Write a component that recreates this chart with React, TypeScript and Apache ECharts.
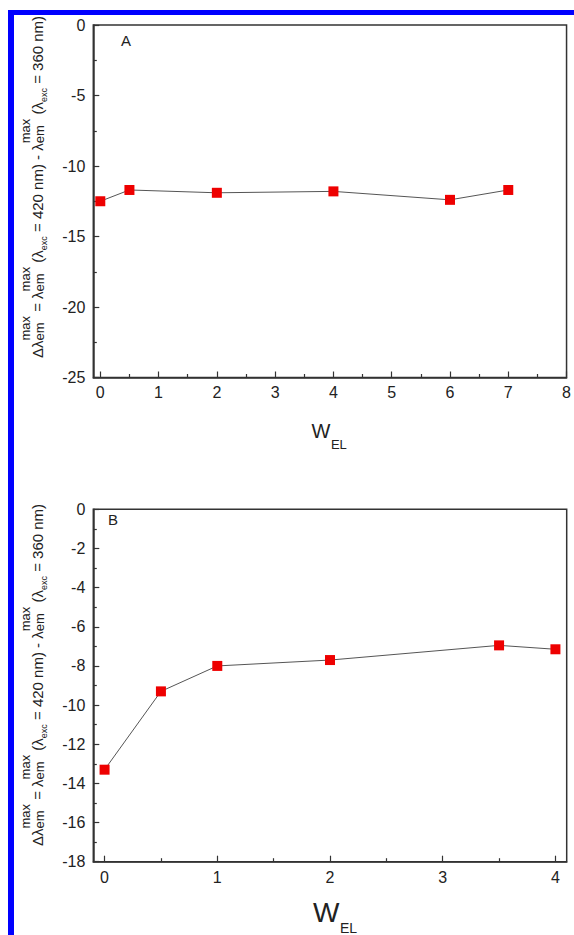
import React, { useEffect, useRef } from "react";
import * as echarts from "echarts";

// ---- data ----
const xA = [0, 0.5, 2, 4, 6, 7];
const yA = [-12.5, -11.7, -11.9, -11.8, -12.4, -11.7];
const xB = [0, 0.5, 1, 2, 3.5, 4];
const yB = [-13.3, -9.3, -8.0, -7.7, -6.95, -7.15];

const xTicksA = [0, 1, 2, 3, 4, 5, 6, 7, 8];
const xMinorA = [0.5, 1.5, 2.5, 3.5, 4.5, 5.5, 6.5, 7.5];
const xTicksB = [0, 1, 2, 3, 4];
const xMinorB = [0.5, 1.5, 2.5, 3.5];

const panelLabels = ["A", "B"];
const xTitleMain = "W";
const xTitleSub = "EL";

const FONT = "'Liberation Sans', Arial, Helvetica, sans-serif";
const AX = "#333";
const TXT = "#222";

function measure(text: string, size: number): number {
  const c = document.createElement("canvas");
  const ctx = c.getContext("2d")!;
  ctx.font = `${size}px 'Liberation Sans', Arial, sans-serif`;
  return ctx.measureText(text).width;
}

type Part = { k: "main" | "sub" | "stack"; t?: string };
const yTitleParts: Part[] = [
  { k: "main", t: "Δλ" },
  { k: "stack" },
  { k: "main", t: " = λ" },
  { k: "stack" },
  { k: "main", t: " (λ" },
  { k: "sub", t: "exc" },
  { k: "main", t: " = 420 nm) - λ" },
  { k: "stack" },
  { k: "main", t: " (λ" },
  { k: "sub", t: "exc" },
  { k: "main", t: " = 360 nm)" },
];

function yTitle(centerY: number) {
  const MAIN = 15, STK = 13, SUB = 9;
  const yMain = 37, yMax = 25.5, yEm = 39.5, yExc = 43.5;
  const widths = yTitleParts.map((p) =>
    p.k === "main" ? measure(p.t!, MAIN) : p.k === "sub" ? measure(p.t!, SUB) : Math.max(measure("max", STK), measure("em", STK))
  );
  const total = widths.reduce((a, b) => a + b, 0);
  let x = -total / 2;
  const children: any[] = [];
  const txt = (t: string, px: number, py: number, size: number) => ({
    type: "text",
    x: px,
    y: py,
    style: {
      text: t,
      font: `${size}px ${FONT}`,
      fill: TXT,
      align: "left",
      verticalAlign: "middle",
      textAlign: "left",
      textVerticalAlign: "middle",
    },
  });
  yTitleParts.forEach((p, i) => {
    if (p.k === "main") children.push(txt(p.t!, x, yMain, MAIN));
    else if (p.k === "sub") children.push(txt(p.t!, x, yExc, SUB));
    else {
      children.push(txt("max", x, yMax, STK));
      children.push(txt("em", x, yEm, STK));
    }
    x += widths[i];
  });
  return { type: "group", x: 0, y: centerY, rotation: Math.PI / 2, children };
}

function xTitle(left: number, cy: number, wSize: number, subCy: number, subSize: number) {
  const wW = measure(xTitleMain, wSize);
  return [
    {
      type: "text",
      x: left,
      y: cy,
      style: { text: xTitleMain, font: `${wSize}px ${FONT}`, fill: TXT, align: "left", verticalAlign: "middle", textAlign: "left", textVerticalAlign: "middle" },
    },
    {
      type: "text",
      x: left + wW + 0.5,
      y: subCy,
      style: { text: xTitleSub, font: `${subSize}px ${FONT}`, fill: TXT, align: "left", verticalAlign: "middle", textAlign: "left", textVerticalAlign: "middle" },
    },
  ];
}

function xMajor(grid: number, min: number, max: number, ticks: number[], margin: number) {
  return {
    type: "value",
    gridIndex: grid,
    position: "bottom",
    min,
    max,
    axisLine: { show: true, onZero: false, lineStyle: { color: AX, width: 1.5 } },
    axisTick: { show: true, inside: true, length: 6, customValues: ticks, lineStyle: { color: AX, width: 1.2 } },
    axisLabel: { show: true, customValues: ticks, fontSize: 16, color: TXT, margin, fontFamily: FONT },
    splitLine: { show: false },
  };
}
function xMinor(grid: number, min: number, max: number, ticks: number[]) {
  return {
    type: "value",
    gridIndex: grid,
    position: "bottom",
    min,
    max,
    axisLine: { show: false, onZero: false },
    axisTick: { show: true, inside: true, length: 3.5, customValues: ticks, lineStyle: { color: AX, width: 1.2 } },
    axisLabel: { show: false },
    splitLine: { show: false },
  };
}
function yAx(grid: number, min: number, max: number, interval: number) {
  return {
    type: "value",
    gridIndex: grid,
    min,
    max,
    interval,
    axisLine: { show: true, onZero: false, lineStyle: { color: AX, width: 1.5 } },
    axisTick: { show: true, inside: true, length: 6, lineStyle: { color: AX, width: 1.2 } },
    minorTick: { show: true, splitNumber: 2, length: 3.5, lineStyle: { color: AX, width: 1.2 } },
    axisLabel: { fontSize: 16, color: TXT, margin: 8, fontFamily: FONT },
    splitLine: { show: false },
    minorSplitLine: { show: false },
  };
}

export default function App() {
  const ref = useRef<HTMLDivElement>(null);
  useEffect(() => {
    const chart = echarts.init(ref.current!, undefined, { renderer: "svg" });
    const option: any = {
      animation: false,
      backgroundColor: "#ffffff",
      textStyle: { fontFamily: FONT },
      grid: [
        { left: 93.3, top: 25, width: 473.7, height: 352.5, show: true, borderColor: AX, borderWidth: 1.5, backgroundColor: "transparent" },
        { left: 93.3, top: 509.3, width: 473.4, height: 352.4, show: true, borderColor: AX, borderWidth: 1.5, backgroundColor: "transparent" },
      ],
      xAxis: [
        xMajor(0, -0.12, 8, xTicksA, 7),
        xMinor(0, -0.12, 8, xMinorA),
        xMajor(1, -0.1, 4.1, xTicksB, 8),
        xMinor(1, -0.1, 4.1, xMinorB),
      ],
      yAxis: [yAx(0, -25, 0, 5), yAx(1, -18, 0, 2)],
      series: [
        {
          type: "line",
          xAxisIndex: 0,
          yAxisIndex: 0,
          data: xA.map((x, i) => [x, yA[i]]),
          symbol: "rect",
          symbolSize: 10,
          itemStyle: { color: "#ee0000" },
          lineStyle: { color: "#555", width: 1 },
        },
        {
          type: "line",
          xAxisIndex: 2,
          yAxisIndex: 1,
          data: xB.map((x, i) => [x, yB[i]]),
          symbol: "rect",
          symbolSize: 10,
          itemStyle: { color: "#ee0000" },
          lineStyle: { color: "#555", width: 1 },
        },
      ],
      graphic: [
        { type: "rect", shape: { x: 8, y: 10, width: 566, height: 5 }, style: { fill: "#0000ff" }, z: 100 },
        { type: "rect", shape: { x: 8, y: 10, width: 6, height: 925 }, style: { fill: "#0000ff" }, z: 100 },
        {
          type: "text", x: 121, y: 40,
          style: { text: panelLabels[0], font: `15px ${FONT}`, fill: TXT, align: "left", verticalAlign: "middle", textAlign: "left", textVerticalAlign: "middle" },
        },
        {
          type: "text", x: 108, y: 519,
          style: { text: panelLabels[1], font: `15px ${FONT}`, fill: TXT, align: "left", verticalAlign: "middle", textAlign: "left", textVerticalAlign: "middle" },
        },
        ...xTitle(311.5, 430.5, 20, 444, 13),
        ...xTitle(313, 912, 28, 927.5, 14),
        yTitle(187),
        yTitle(675),
      ],
    };
    chart.setOption(option);
    return () => chart.dispose();
  }, []);
  return <div ref={ref} style={{ position: "absolute", left: 0, top: 0, width: 574, height: 935 }} />;
}
